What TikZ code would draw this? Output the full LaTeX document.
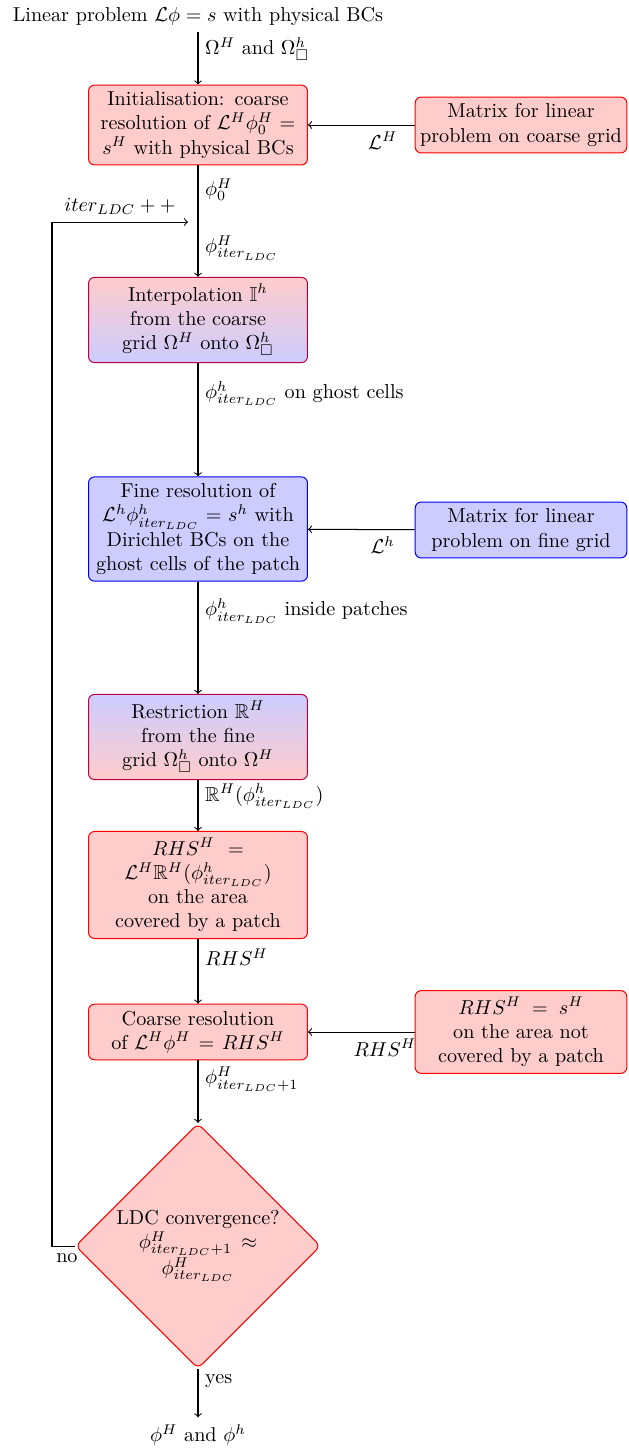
\documentclass[tikz,border=0pt]{standalone}
\usepackage{amsmath,amssymb}
\usetikzlibrary{shapes.geometric}
\begin{document}
\begin{tikzpicture}[x=0.4963pt,y=-0.4963pt,
  box/.style={rectangle, rounded corners=3pt, text width=102pt, align=center, inner sep=3.33pt, line width=0.5pt},
  sidebox/.style={box, text width=101pt, inner xsep=2pt},
  redc/.style={draw=red, fill=red!20},
  bluec/.style={draw=blue, fill=blue!20},
  rbgrad/.style={draw=purple, top color=red!20, bottom color=blue!20},
  brgrad/.style={draw=purple, top color=blue!20, bottom color=red!20},
  decision/.style={diamond, draw=red, fill=red!20, rounded corners=3pt, text width=86pt, align=center, inner sep=0pt, minimum width=120pt, minimum height=120pt, line width=0.5pt},
  flow/.style={->, line width=0.5pt},
  lab/.style={right, inner sep=3.33pt}
]
\useasboundingbox (0,0) rectangle (629,1448);

\node (start) at (198,16) {Linear problem $\mathcal{L}\phi = s$ with physical BCs};
\node[box, redc] (init) at (198,125) {Initialisation: coarse\\ resolution of $\mathcal{L}^H\phi_0^H =$\\ $s^H$ with physical BCs};
\node[sidebox, redc] (matc) at (521,125) {Matrix for linear\\ problem on coarse grid};
\node[box, rbgrad] (interp) at (198,320) {Interpolation $\mathbb{I}^h$\\ from the coarse\\ grid $\Omega^H$ onto $\Omega^h_{\Box}$};
\node[box, bluec] (fine) at (198,529) {Fine resolution of\\ $\mathcal{L}^h\phi^h_{iter_{LDC}} = s^h$ with\\ Dirichlet BCs on the\\ ghost cells of the patch};
\node[sidebox, bluec] (matf) at (521,530) {Matrix for linear\\ problem on fine grid};
\node[box, brgrad] (restr) at (198,737) {Restriction $\mathbb{R}^H$\\ from the fine\\ grid $\Omega^h_{\Box}$ onto $\Omega^H$};
\node[box, redc] (rhs) at (198,885) {$RHS^H =$\\ $\mathcal{L}^H\mathbb{R}^H(\phi^h_{iter_{LDC}})$\\ on the area\\ covered by a patch};
\node[box, redc] (coarse) at (198,1032) {Coarse resolution\\ of $\mathcal{L}^H\phi^H = RHS^H$};
\node[sidebox, redc] (rhss) at (521,1032) {$RHS^H = s^H$\\ on the area not\\ covered by a patch};
\node[decision] (conv) at (198,1246) {LDC convergence?\\ $\phi^H_{iter_{LDC}+1}\approx$\\ $\phi^H_{iter_{LDC}}$};
\node (final) at (198,1435) {$\phi^H$ and $\phi^h$};

\coordinate (lc) at (52,1246);
\coordinate (le) at (188,222);

\draw[flow] (start) -- node[lab, pos=0.32] {$\Omega^H$ and $\Omega^h_{\Box}$} (init);
\draw[flow] (matc) -- node[below, pos=0.3] {$\mathcal{L}^H$} (init);
\draw[flow] (init) -- node[lab, pos=0.22] {$\phi_0^H$} node[lab, pos=0.74] {$\phi^H_{iter_{LDC}}$} (interp);
\draw[flow] (interp) -- node[lab, pos=0.27] {$\phi^h_{iter_{LDC}}$ on ghost cells} (fine);
\draw[flow] (matf) -- node[below, pos=0.3] {$\mathcal{L}^h$} (fine);
\draw[flow] (fine) -- node[lab, pos=0.26] {$\phi^h_{iter_{LDC}}$ inside patches} (restr);
\draw[flow] (restr) -- node[lab, pos=0.32] {$\mathbb{R}^H(\phi^h_{iter_{LDC}})$} (rhs);
\draw[flow] (rhs) -- node[lab, pos=0.28] {$RHS^H$} (coarse);
\draw[flow] (rhss) -- node[below, pos=0.28] {$RHS^H$} (coarse);
\draw[flow] (coarse) -- node[lab, pos=0.3] {$\phi^H_{iter_{LDC}+1}$} (conv);
\draw[flow] (conv) -- node[lab, pos=0.25] {yes} (final);
\draw[flow] (conv.west) -- node[below, pos=0.35] {no} (lc) |- node[above, pos=0.75] {$iter_{LDC}++$} (le);
\end{tikzpicture}
\end{document}
